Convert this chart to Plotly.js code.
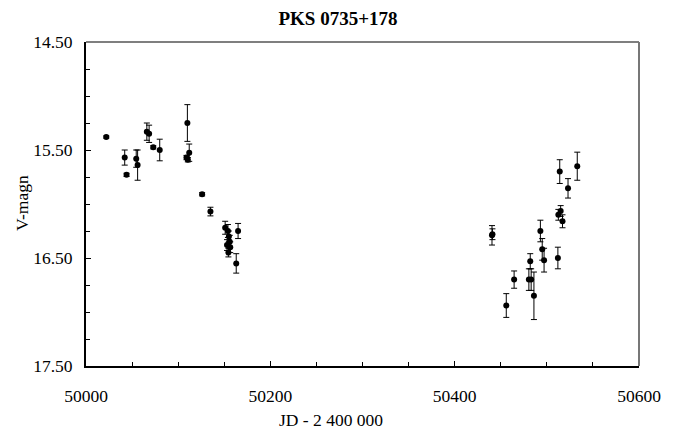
<!DOCTYPE html>
<html>
<head>
<meta charset="utf-8">
<script src="https://cdn.plot.ly/plotly-3.0.1.min.js"></script>
<style>html,body{margin:0;padding:0;background:#fff;}#chart{width:683px;height:432px;}</style>
</head>
<body>
<div id="chart"></div>
<script>
// JD - 2 400 000
const jd = [
  50022, 50042, 50044, 50054.5, 50056, 50066, 50068.5, 50073, 50080,
  50110, 50109, 50110.5, 50112, 50126, 50135,
  50151, 50154, 50155, 50156, 50153, 50156.5, 50154.5, 50165, 50163,
  50440.5, 50441, 50456, 50464.5, 50482, 50480.5, 50483, 50486,
  50493, 50495, 50497, 50512, 50514, 50512.5, 50515, 50517, 50523, 50533
];
// V magnitude
const vmag = [
  15.38, 15.57, 15.73, 15.58, 15.64, 15.33, 15.35, 15.475, 15.50,
  15.25, 15.57, 15.59, 15.525, 15.91, 16.07,
  16.22, 16.25, 16.30, 16.35, 16.38, 16.40, 16.45, 16.25, 16.55,
  16.29, 16.28, 16.94, 16.70, 16.53, 16.70, 16.70, 16.85,
  16.25, 16.42, 16.52, 16.50, 15.70, 16.10, 16.065, 16.16, 15.855, 15.65
];
// error in magnitude
const verr = [
  0.01, 0.07, 0.015, 0.08, 0.14, 0.08, 0.08, 0.015, 0.10,
  0.17, 0.02, 0.02, 0.08, 0.015, 0.04,
  0.06, 0.06, 0.05, 0.06, 0.05, 0.05, 0.04, 0.07, 0.09,
  0.09, 0.05, 0.11, 0.08, 0.07, 0.10, 0.10, 0.22,
  0.10, 0.10, 0.11, 0.10, 0.11, 0.05, 0.05, 0.06, 0.09, 0.13
];
const xTicks = [50000, 50200, 50400, 50600];
const yTicks = [14.5, 15.5, 16.5, 17.5];

const serif = 'Liberation Serif, Times New Roman, serif';
const fs = 17.5;

const trace = {
  x: jd, y: vmag, type: 'scatter', mode: 'markers',
  marker: {color: '#000', size: 6},
  error_y: {type: 'data', array: verr, visible: true, color: '#000', thickness: 1, width: 3},
  showlegend: false, hoverinfo: 'none'
};

const layout = {
  width: 683, height: 432,
  margin: {l: 86, r: 44, t: 42, b: 66},
  paper_bgcolor: '#fff', plot_bgcolor: '#fff',
  font: {family: serif, size: fs, color: '#000'},
  title: {text: '<b>PKS 0735+178</b>', font: {family: serif, size: 19, color: '#000'},
          x: 338 / 683, xanchor: 'center', y: 1 - 18 / 432, yanchor: 'middle'},
  xaxis: {
    range: [50000, 50600], tickvals: xTicks, tickformat: 'd',
    showgrid: false, zeroline: false, showline: true, linecolor: '#000', linewidth: 2,
    ticks: 'inside', ticklen: 5, tickcolor: '#000', tickwidth: 1,
    minor: {dtick: 50, tick0: 50000, ticks: 'inside', ticklen: 4, tickcolor: '#000', showgrid: false},
    ticklabelstandoff: 13,
    tickfont: {family: serif, size: fs}
  },
  yaxis: {
    range: [17.5, 14.5], tickvals: yTicks, tickformat: '.2f',
    showgrid: false, zeroline: false, showline: true, linecolor: '#000', linewidth: 2,
    ticks: 'inside', ticklen: 5, tickcolor: '#000', tickwidth: 1,
    minor: {dtick: 0.25, tick0: 14.5, ticks: 'inside', ticklen: 4, tickcolor: '#000', showgrid: false},
    ticklabelstandoff: 8,
    tickfont: {family: serif, size: fs}
  },
  annotations: [
    {text: 'JD - 2 400 000', xref: 'paper', yref: 'paper', x: (331 - 86) / 553, y: (366 - 420) / 324,
     xanchor: 'center', yanchor: 'middle', showarrow: false, font: {family: serif, size: fs, color: '#000'}},
    {text: 'V-magn', xref: 'paper', yref: 'paper', x: (22 - 86) / 553, y: (366 - 203) / 324, textangle: -90,
     xanchor: 'center', yanchor: 'middle', showarrow: false, font: {family: serif, size: fs, color: '#000'}}
  ],
  shapes: [
    {type: 'line', xref: 'paper', yref: 'paper', x0: 0, x1: 1, y0: 1, y1: 1, line: {color: '#555', width: 1.5}},
    {type: 'line', xref: 'paper', yref: 'paper', x0: 1, x1: 1, y0: 0, y1: 1, line: {color: '#777', width: 2}}
  ]
};

Plotly.newPlot('chart', [trace], layout, {displayModeBar: false, staticPlot: true});
</script>
</body>
</html>
